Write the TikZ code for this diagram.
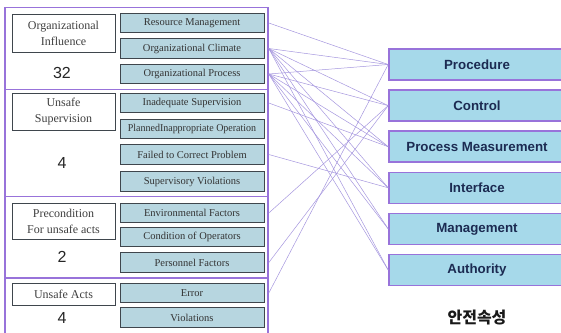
\documentclass[tikz,border=0pt]{standalone}
\usepackage{fontspec}
\setmainfont{Liberation Serif}
\newfontfamily\arialfont{Liberation Sans}
\newfontfamily\krfont{Noto Sans CJK KR}
\usetikzlibrary{positioning}

\definecolor{framepurple}{HTML}{9873DA}
\definecolor{itemfill}{HTML}{B7D6E0}
\definecolor{attrfill}{HTML}{A6D9EA}
\definecolor{attrtext}{HTML}{1C2B52}
\definecolor{linkline}{HTML}{A596DE}
\definecolor{boxline}{HTML}{3F464D}

\begin{document}
\begin{tikzpicture}[x=1pt,y=-1pt,
    group/.style={draw=framepurple,fill=white,line width=1.6pt,rectangle,minimum width=263pt,inner sep=0pt},
    factor/.style={draw=boxline,line width=0.6pt,fill=itemfill,minimum width=144pt,minimum height=19.5pt,inner sep=0pt,font=\fontsize{10.5}{12}\selectfont,text=black!80},
    level/.style={draw=boxline,line width=0.6pt,fill=white,minimum width=103pt,inner sep=0pt,align=center,font=\fontsize{12}{16}\selectfont,text=black!75},
    count/.style={font=\arialfont\fontsize{16}{18}\selectfont,text=black!85},
    attr/.style={draw=framepurple,line width=1.6pt,fill=attrfill,minimum width=176pt,minimum height=31pt,inner sep=0pt,font=\arialfont\bfseries\fontsize{13.3}{15}\selectfont,text=attrtext},
    link/.style={draw=linkline,line width=0.5pt}]
    \useasboundingbox (0,0) rectangle (561,332);

    % four levels, one frame each
    \node (g1) [group,minimum height=82pt] at (136.5,48.5) {};
    \node (g2) [group,minimum height=107pt] at (136.5,143) {};
    \node (g3) [group,minimum height=81.5pt] at (136.5,237.25) {};
    \node (g4) [group,minimum height=62pt] at (136.5,309) {};

    \node (l1) [level,minimum height=38pt] at (63.5,33) {Organizational\\Influence};
    \node (l2) [level,minimum height=37pt] at (63.5,111.5) {Unsafe\\Supervision};
    \node (l3) [level,minimum height=36pt] at (63.5,221) {Precondition\\For unsafe acts};
    \node (l4) [level,minimum height=22pt] at (63.5,294) {Unsafe Acts};

    \node (n1) [count] at (62,73) {32};
    \node (n2) [count] at (62,163) {4};
    \node (n3) [count] at (62,257) {2};
    \node (n4) [count] at (62,318) {4};

    % causal factors
    \node (rm)   [factor] at (192,23)    {Resource Management};
    \node (clim) [factor] at (192,48.5)  {Organizational Climate};
    \node (orgp) [factor] at (192,74)    {Organizational Process};
    \node (inad) [factor] at (192,103)   {Inadequate Supervision};
    \node (plan) [factor] at (192,129)   {\scalebox{0.95}[1]{PlannedInappropriate Operation}};
    \node (fail) [factor] at (192,154.5) {Failed to Correct Problem};
    \node (supv) [factor] at (192,181.5) {Supervisory Violations};
    \node (env)  [factor] at (192,213)   {Environmental Factors};
    \node (cond) [factor] at (192,237)   {Condition of Operators};
    \node (pers) [factor] at (192,262.5) {Personnel Factors};
    \node (err)  [factor] at (192,293)   {Error};
    \node (viol) [factor] at (192,317.5) {Violations};

    % safety attributes
    \node (proc) [attr] at (477,64.5) {Procedure};
    \node (ctrl) [attr,below=8.5pt of proc] {Control};
    \node (meas) [attr,below=8.5pt of ctrl] {Process Measurement};
    \node (intf) [attr,below=8.5pt of meas] {Interface};
    \node (mgmt) [attr,below=8.5pt of intf] {Management};
    \node (auth) [attr,below=8.5pt of mgmt] {Authority};
    \node (title) [font=\krfont\bfseries\fontsize{16}{18}\selectfont,text=black!90] at (477,318) {안전속성};

    \foreach \src/\dst in {rm/proc,
        clim/proc,clim/ctrl,clim/meas,clim/intf,clim/mgmt,clim/auth,
        orgp/proc,orgp/ctrl,orgp/meas,orgp/intf,orgp/mgmt,orgp/auth,
        inad/meas,fail/intf,env/ctrl,pers/ctrl,err/proc}
      \draw[link] (\src.east -| g1.east) -- (\dst.west);
\end{tikzpicture}
\end{document}
